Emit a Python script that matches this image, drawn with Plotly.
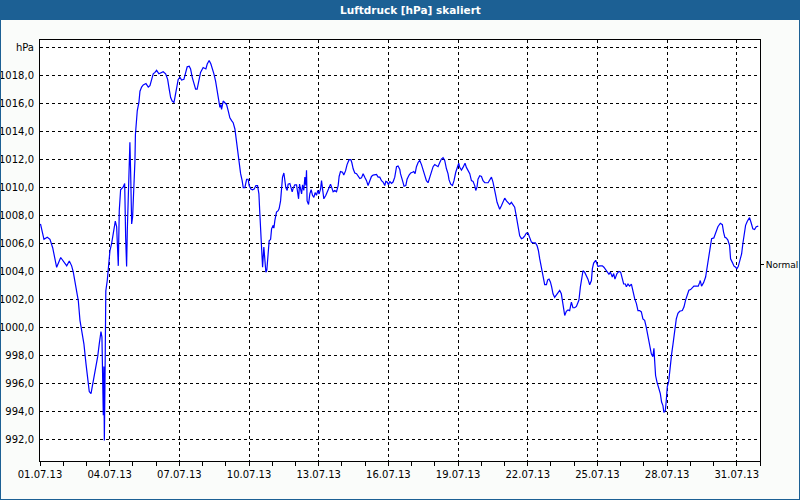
import plotly.graph_objects as go
import pandas as pd

TITLE = "Luftdruck [hPa] skaliert"
START = "2013-07-01"
END = "2013-08-01"

# hours since 01.07.13 00:00 and air pressure [hPa]
HOURS = [
    0.5, 4.1, 7.5, 10.3, 13.1, 15.5, 17.2, 21.4, 24.1, 27.6, 30.3, 32.7, 34.4, 37.2, 39.6, 41.3,
    43.1, 45.4, 47.5, 49.9, 50.9, 52.7, 55.0, 57.5, 59.6, 61.2, 63.0, 64.0, 64.7, 65.4, 66.0, 66.5,
    67.3, 68.0, 69.5, 70.9, 72.3, 74.0, 75.1, 76.4, 77.8, 79.2, 80.2, 80.9, 81.9, 83.3, 86.0, 87.5,
    88.5, 89.5, 90.2, 91.2, 92.2, 92.9, 93.7, 94.7, 95.7, 97.1, 98.1, 98.6, 99.6, 100.5, 102.2, 103.3,
    105.0, 106.7, 109.5, 111.9, 113.6, 115.3, 117.0, 118.8, 120.5, 122.9, 125.7, 127.3, 129.8, 131.9,
    133.5, 135.0, 136.6, 138.4, 139.4, 141.2, 142.8, 144.6, 146.3, 148.7, 150.8, 152.1, 154.2, 155.6,
    157.3, 159.3, 160.8, 162.4, 164.2, 165.9, 168.6, 171.4, 172.8, 174.8, 176.6, 178.3, 179.7, 181.4,
    183.1, 184.5, 185.9, 186.9, 187.6, 189.3, 191.0, 192.8, 194.5, 196.2, 198.0, 199.6, 201.4, 202.4,
    203.8, 204.8, 205.8, 207.3, 208.9, 210.0, 211.7, 213.5, 215.1, 216.1, 217.9, 219.6, 221.3, 223.1,
    224.8, 226.2, 227.2, 228.2, 229.6, 230.0, 231.3, 232.4, 233.4, 234.4, 235.8, 236.8, 238.3, 239.3,
    241.0, 241.7, 242.7, 244.4, 246.1, 247.1, 248.6, 249.6, 250.6, 252.0, 253.0, 254.0, 255.4, 256.4,
    258.2, 259.2, 260.6, 261.6, 263.3, 265.1, 266.1, 267.2, 268.2, 269.2, 270.3, 271.3, 272.6, 273.7,
    274.7, 275.4, 276.0, 277.5, 278.8, 280.2, 281.6, 283.0, 284.3, 285.7, 287.1, 288.4, 289.9, 290.9,
    291.9, 293.3, 295.4, 297.1, 298.8, 300.2, 301.5, 302.9, 304.6, 306.4, 308.1, 309.1, 310.5, 312.6,
    313.9, 315.7, 317.3, 319.4, 321.2, 322.2, 323.6, 325.3, 327.1, 328.7, 330.5, 332.2, 333.9, 335.6,
    337.4, 339.0, 340.8, 342.5, 344.2, 347.7, 349.4, 351.1, 352.9, 354.5, 356.3, 357.3, 358.7, 360.1,
    361.4, 363.2, 364.8, 366.6, 368.4, 370.0, 371.8, 372.5, 374.6, 376.2, 378.0, 379.3, 381.4, 383.1,
    384.9, 386.2, 387.6, 389.0, 390.7, 392.4, 394.2, 395.8, 397.6, 399.3, 401.0, 402.8, 404.5, 406.2,
    407.9, 409.7, 411.3, 413.1, 414.8, 416.5, 418.2, 420.0, 421.6, 422.7, 424.4, 426.2, 427.8, 429.6,
    431.3, 432.7, 433.7, 435.5, 437.1, 439.2, 440.6, 442.7, 444.1, 445.8, 447.5, 449.2, 450.3, 451.6,
    452.6, 454.4, 456.2, 457.8, 459.6, 463.0, 464.7, 466.5, 468.1, 469.9, 470.9, 472.3, 473.7, 475.0,
    476.8, 478.5, 480.2, 482.0, 483.6, 485.4, 487.1, 488.8, 490.5, 492.3, 494.0, 495.7, 497.5, 499.1,
    500.9, 502.6, 504.3, 506.0, 507.8, 509.4, 511.9, 513.6, 515.0, 516.4, 518.1, 519.1, 520.5, 521.5,
    523.3, 524.6, 526.0, 527.4, 528.7, 530.1, 531.8, 533.6, 535.2, 537.0, 538.7, 539.8, 541.1, 542.2,
    543.9, 545.6, 547.3, 549.1, 550.7, 552.5, 554.3, 555.9, 556.9, 558.4, 559.7, 561.1, 562.8, 564.6,
    566.2, 568.0, 569.8, 570.8, 572.1, 574.2, 575.5, 576.6, 578.3, 581.1, 582.7, 584.5, 585.8, 587.9,
    589.4, 591.4, 592.8, 594.1, 596.2, 598.3, 600.0, 601.8, 603.1, 604.9, 605.9, 607.6, 609.3, 611.1,
    612.8, 614.5, 616.3, 617.9, 619.6, 621.4, 623.0, 624.8, 626.5, 628.2, 629.9, 631.7, 633.3, 634.4,
    635.1, 636.1, 637.5, 639.2, 641.0, 642.3, 643.7, 644.7, 646.2, 647.2, 648.2, 649.6, 651.4, 652.7,
    654.1, 655.9, 657.5, 659.2, 661.0, 663.7, 665.4, 667.1, 668.9, 670.5, 672.3, 674.0, 675.7, 678.2,
    680.2, 681.6, 682.3, 683.6, 685.7, 687.8, 689.1, 690.5, 692.6, 694.0, 696.3, 698.8, 700.5, 703.0,
    705.1, 706.4, 707.7, 709.2, 710.8, 712.6, 713.6, 715.4, 717.0, 718.8, 720.1, 721.5, 722.9, 725.0,
    726.3, 727.8, 729.1, 730.9, 733.2, 735.0, 736.6, 738.4, 740.1, 742.2,
]
HPA = [
    1007.4, 1006.3, 1006.45, 1006.3, 1005.7, 1004.7, 1004.3, 1005.0, 1004.75, 1004.4, 1004.75, 1004.4, 1003.95, 1002.75, 1001.9, 1000.5,
    999.8, 998.8, 997.4, 996.0, 995.4, 995.25, 996.1, 997.2, 997.9, 998.8, 999.7, 999.3, 997.4, 993.7, 997.2, 991.9,
    997.2, 1002.6, 1003.35, 1004.55, 1005.5, 1006.0, 1006.45, 1007.2, 1007.6, 1007.2, 1005.75, 1004.4, 1008.35, 1009.85, 1010.05, 1010.3,
    1006.45, 1004.35, 1006.9, 1009.3, 1012.5, 1013.25, 1011.0, 1007.4, 1007.9, 1009.8, 1011.9, 1013.8, 1015.0, 1015.5, 1016.1, 1016.9,
    1017.2, 1017.35, 1017.45, 1017.2, 1017.3, 1017.7, 1018.15, 1018.25, 1018.4, 1018.15, 1018.25, 1018.3, 1018.15, 1017.75,
    1017.05, 1016.45, 1016.2, 1016.1, 1016.45, 1017.3, 1017.75, 1017.9, 1017.7, 1017.75, 1018.25, 1018.65, 1018.7, 1018.5,
    1017.9, 1017.3, 1017.05, 1017.05, 1017.75, 1018.25, 1018.6, 1018.5, 1018.85, 1019.1, 1018.85, 1018.5, 1018.15, 1017.65,
    1016.9, 1016.2, 1015.75, 1015.95, 1015.6, 1016.2, 1016.1, 1015.95, 1015.5, 1015.0, 1014.8, 1014.65, 1014.2, 1013.6,
    1012.9, 1012.15, 1011.55, 1011.0, 1010.5, 1010.0, 1010.0, 1010.6, 1010.6, 1010.15, 1009.9, 1009.85, 1009.9, 1010.15,
    1010.15, 1009.55, 1008.1, 1006.45, 1004.8, 1004.3, 1005.75, 1004.8, 1003.95, 1004.1, 1005.5, 1006.2, 1006.3, 1007.05,
    1007.3, 1007.1, 1007.65, 1008.25, 1008.35, 1008.5, 1009.05, 1009.9, 1010.75, 1011.05, 1010.5, 1010.0, 1009.8, 1010.25,
    1010.3, 1010.0, 1009.7, 1009.95, 1010.2, 1010.2, 1009.8, 1009.2, 1010.25, 1009.8, 1009.55, 1010.2, 1009.8, 1010.75,
    1010.15, 1011.25, 1009.05, 1008.8, 1009.55, 1009.85, 1009.45, 1009.3, 1009.65, 1009.45, 1009.8, 1009.55, 1009.9, 1010.5,
    1009.9, 1009.2, 1009.45, 1009.7, 1010.05, 1010.25, 1010.0, 1009.7, 1009.8, 1009.7, 1010.15, 1010.8, 1011.15, 1011.1,
    1010.9, 1011.2, 1011.65, 1012.0, 1012.0, 1011.8, 1011.35, 1011.05, 1011.0, 1010.8, 1010.65, 1010.7, 1011.0, 1010.75,
    1010.5, 1010.15, 1010.5, 1010.8, 1010.9, 1010.95, 1010.75, 1010.75, 1010.5, 1010.4, 1010.15, 1010.45, 1010.4, 1010.2,
    1010.45, 1010.3, 1010.4, 1010.75, 1011.5, 1011.55, 1011.3, 1011.0, 1010.5, 1010.1, 1010.15, 1010.6, 1010.9, 1011.05,
    1011.1, 1011.15, 1011.0, 1011.5, 1011.8, 1011.95, 1011.65, 1011.25, 1010.8, 1010.5, 1010.35, 1010.7, 1011.1, 1011.5,
    1011.65, 1011.55, 1011.5, 1011.8, 1012.05, 1012.15, 1011.95, 1011.35, 1011.0, 1010.55, 1010.25, 1010.15, 1010.5, 1011.1,
    1011.55, 1011.75, 1011.45, 1011.25, 1011.45, 1011.75, 1011.45, 1011.2, 1011.0, 1010.5, 1010.45, 1010.15, 1009.8, 1010.05,
    1010.6, 1010.85, 1010.8, 1010.5, 1010.35, 1010.35, 1010.6, 1010.75, 1010.4, 1009.9, 1009.45, 1008.95, 1008.6, 1008.45,
    1008.7, 1009.05, 1009.25, 1009.05, 1008.95, 1008.8, 1008.95, 1008.8, 1008.6, 1007.9, 1007.3, 1006.55, 1006.35, 1006.4,
    1006.55, 1006.75, 1006.75, 1006.35, 1006.1, 1006.05, 1006.05, 1005.85, 1005.5, 1004.9, 1004.3, 1003.7, 1003.25, 1003.05,
    1003.05, 1003.4, 1003.45, 1003.25, 1002.9, 1002.4, 1002.15, 1002.3, 1002.5, 1002.65, 1002.4, 1001.8, 1001.2, 1000.85,
    1001.15, 1001.25, 1001.2, 1001.8, 1001.4, 1001.4, 1001.5, 1001.8, 1001.95, 1002.9, 1003.5, 1004.05, 1003.95, 1003.7,
    1003.45, 1003.05, 1003.35, 1004.2, 1004.6, 1004.8, 1004.6, 1004.35, 1004.4, 1004.4, 1004.3, 1004.1, 1003.95, 1003.8,
    1003.95, 1003.6, 1003.85, 1003.45, 1003.85, 1004.0, 1003.95, 1003.35, 1003.1, 1003.1, 1002.9, 1003.1, 1002.95, 1003.1,
    1002.5, 1002.05, 1001.7, 1001.2, 1001.2, 1001.1, 1000.6, 1000.5, 1000.0, 999.3, 998.7, 998.1, 997.9, 998.5,
    997.65, 996.55, 996.1, 995.75, 995.25, 994.65, 994.4, 993.9, 994.05, 994.8, 995.75, 996.1, 997.55, 998.1,
    998.8, 999.8, 1000.6, 1001.0, 1001.15, 1001.2, 1001.45, 1001.95, 1002.4, 1002.65, 1002.7, 1002.85, 1002.95, 1002.95,
    1002.95, 1003.2, 1003.35, 1002.95, 1003.2, 1003.6, 1004.2, 1004.8, 1005.5, 1006.35, 1006.4, 1006.8, 1007.2, 1007.45,
    1007.35, 1006.8, 1006.45, 1006.4, 1006.25, 1005.85, 1004.9, 1004.65, 1004.4, 1004.3, 1004.2, 1004.35, 1004.8, 1005.25,
    1006.0, 1006.7, 1007.3, 1007.6, 1007.85, 1007.45, 1007.05, 1007.0, 1007.2, 1007.25,
]

Y_TICKS = [992, 994, 996, 998, 1000, 1002, 1004, 1006, 1008, 1010, 1012, 1014, 1016, 1018, 1020]
Y_LABELS = ["992,0", "994,0", "996,0", "998,0", "1000,0", "1002,0", "1004,0", "1006,0",
            "1008,0", "1010,0", "1012,0", "1014,0", "1016,0", "1018,0", "hPa"]
Y_RANGE = [990.43, 1020.57]
NORMAL_VALUE = 1004.5
NORMAL_LABEL = "Normal"

FONT = "DejaVu Sans"
BAR = "#1c6094"

times = pd.Timestamp(START) + pd.to_timedelta(HOURS, unit="h")

fig = go.Figure()
fig.add_trace(go.Scatter(x=times, y=HPA, mode="lines",
                         line=dict(color="#0000ff", width=1.2),
                         hoverinfo="skip", showlegend=False))
fig.add_trace(go.Scatter(x=[times[0]], y=[NORMAL_VALUE], yaxis="y2", mode="lines",
                         line=dict(width=0), hoverinfo="skip", showlegend=False))

tickfont = dict(family=FONT, size=10, color="black")

fig.update_layout(
    width=800, height=500,
    margin=dict(l=40, r=40, t=40, b=39, pad=0, autoexpand=False),
    paper_bgcolor="#fafcfa",
    plot_bgcolor="white",
    showlegend=False,
    xaxis=dict(
        type="date", range=[START, END], automargin=False,
        tick0=START, dtick=3 * 86400000, tickformat="%d.%m.%y",
        ticks="outside", ticklen=4, tickcolor="black", tickwidth=1,
        showgrid=True, gridcolor="black", griddash="3px,3px", gridwidth=1,
        showline=True, linecolor="black", linewidth=1, mirror=True,
        minor=dict(dtick=86400000, tick0=START, ticks="outside", ticklen=4,
                   tickcolor="black", showgrid=False),
        tickfont=tickfont, zeroline=False, fixedrange=True,
    ),
    yaxis=dict(
        range=Y_RANGE, tickvals=Y_TICKS, ticktext=Y_LABELS, ticks="", automargin=False,
        showgrid=True, gridcolor="black", griddash="3px,3px", gridwidth=1,
        showline=True, linecolor="black", linewidth=1, mirror=True,
        zeroline=False, tickfont=tickfont, ticklabelstandoff=3, fixedrange=True,
    ),
    yaxis2=dict(
        range=Y_RANGE, overlaying="y", side="right", automargin=False,
        tickvals=[NORMAL_VALUE], ticktext=[NORMAL_LABEL],
        ticks="outside", ticklen=3, tickcolor="black",
        showgrid=False, showline=False, zeroline=False,
        tickfont=dict(family=FONT, size=9, color="black"), fixedrange=True,
    ),
    shapes=[
        dict(type="rect", xref="paper", yref="paper",
             x0=-40 / 720, x1=1 + 40 / 720, y0=1 + 20 / 421, y1=1 + 41 / 421,
             fillcolor=BAR, line=dict(width=0), layer="above"),
        dict(type="rect", xref="paper", yref="paper",
             x0=-40 / 720, x1=1 + 40 / 720, y0=-39 / 421, y1=1 + 40 / 421,
             fillcolor="rgba(0,0,0,0)", line=dict(color=BAR, width=2), layer="above"),
    ],
    annotations=[
        dict(text=TITLE, xref="paper", yref="paper", x=(411 - 40) / 720, y=1 + 30 / 421,
             xanchor="center", yanchor="middle", showarrow=False,
             font=dict(family=FONT, size=10.5, color="white", weight="bold")),
    ],
)

fig.write_html("out.html", config={"displayModeBar": False},
               post_script="document.body.style.margin='0';")
